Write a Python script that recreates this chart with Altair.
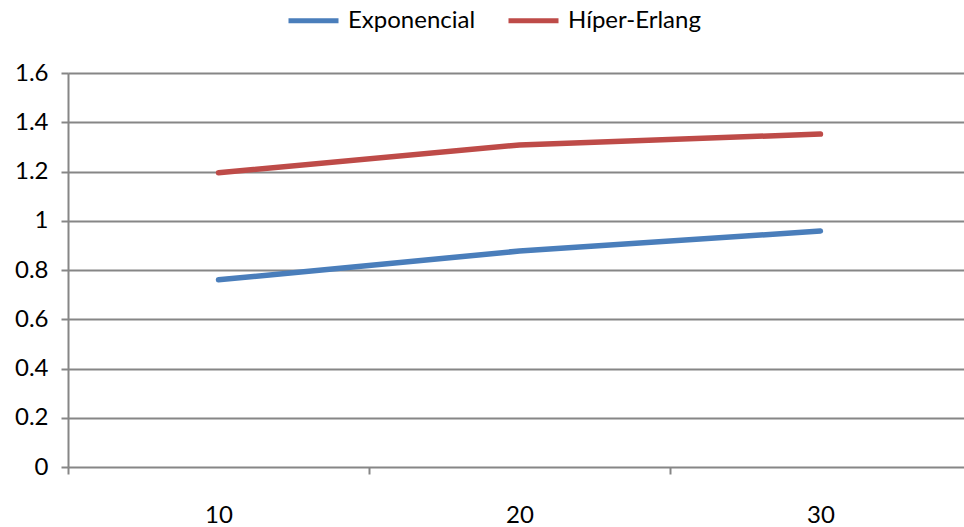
import altair as alt
import pandas as pd

categories = [10, 20, 30]
exponencial = [0.76, 0.877, 0.958]
hiper_erlang = [1.195, 1.308, 1.352]
series_names = ["Exponencial", "Híper-Erlang"]
colors = ["#4A7EBB", "#BE4B48"]

rows = []
for c, v in zip(categories, exponencial):
    rows.append({"x": c, "y": v, "serie": series_names[0]})
for c, v in zip(categories, hiper_erlang):
    rows.append({"x": c, "y": v, "serie": series_names[1]})
df = pd.DataFrame(rows)

FONT = "Lato"
GRID = "#868686"

chart = alt.Chart(df).mark_line(strokeWidth=5.5, strokeCap="round").encode(
    x=alt.X(
        "x:Q",
        scale=alt.Scale(domain=[5, 34.77], nice=False, zero=False),
        axis=alt.Axis(
            values=[5, 10, 15, 20, 25, 30],
            title=None,
            grid=False,
            domain=False,
            labelExpr="datum.value % 10 == 0 ? datum.label : ''",
            tickOpacity={"condition": {"test": "datum.value % 10 == 5", "value": 1}, "value": 0},
            tickSize=7,
            tickWidth=2,
            tickColor=GRID,
            labelPadding=29,
            labelFontSize=24,
            labelFont=FONT,
            labelColor="black",
        ),
    ),
    y=alt.Y(
        "y:Q",
        scale=alt.Scale(domain=[0, 1.6], nice=False),
        axis=alt.Axis(
            values=[0, 0.2, 0.4, 0.6, 0.8, 1.0, 1.2, 1.4, 1.6],
            format="~g",
            title=None,
            grid=True,
            gridColor=GRID,
            gridWidth=2,
            domainColor=GRID,
            domainWidth=2,
            tickColor=GRID,
            tickWidth=2,
            tickSize=7,
            labelPadding=13,
            labelFontSize=24,
            labelFont=FONT,
            labelColor="black",
        ),
    ),
    color=alt.Color(
        "serie:N",
        scale=alt.Scale(domain=series_names, range=colors),
        legend=alt.Legend(
            title=None,
            orient="none",
            legendX=218,
            legendY=-80,
            direction="horizontal",
            symbolType="stroke",
            symbolStrokeWidth=5,
            symbolSize=2500,
            labelFontSize=24,
            labelFont=FONT,
            labelColor="black",
            labelOffset=7,
            columnPadding=22,
        ),
    ),
).properties(
    width=896,
    height=394,
    autosize=alt.AutoSizeParams(type="none"),
    padding={"left": 68, "top": 73, "right": 0, "bottom": 60},
).configure_view(stroke=None).configure(background="white")

chart.save("out.html", embed_options={"renderer": "svg", "actions": False})
